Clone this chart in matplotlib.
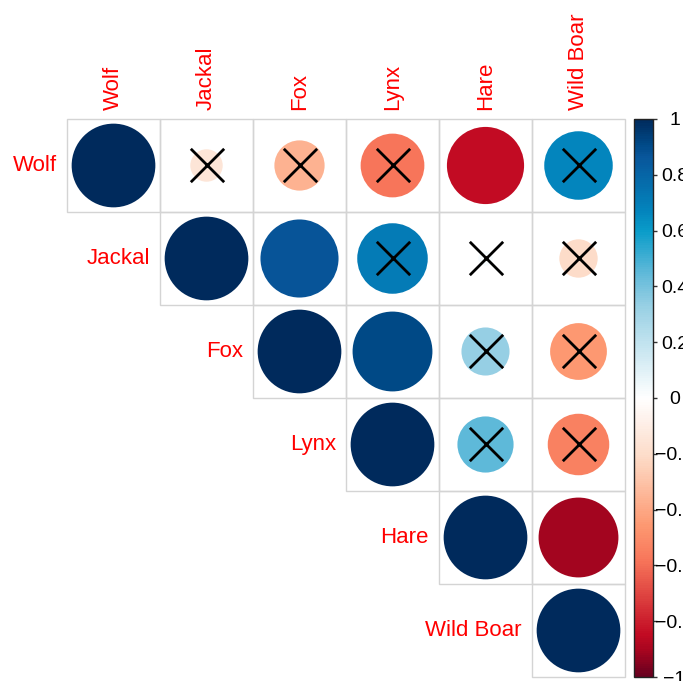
import numpy as np
import matplotlib
matplotlib.use("Agg")
import matplotlib.pyplot as plt
from matplotlib.patches import Circle, Rectangle
from matplotlib.colors import LinearSegmentedColormap, Normalize
from matplotlib.cm import ScalarMappable

plt.rcParams['font.family'] = ['Liberation Sans', 'DejaVu Sans']

#%% data
species = ["Wolf", "Jackal", "Fox", "Lynx", "Hare", "Wild Boar"]

# upper triangle of the correlation matrix, one row per species
corr_wolf = [1.00, -0.15, -0.36, -0.58, -0.85, 0.67]
corr_jackal = [1.00, 0.87, 0.71, 0.03, -0.21]
corr_fox = [1.00, 0.91, 0.33, -0.46]
corr_lynx = [1.00, 0.45, -0.54]
corr_hare = [1.00, -0.91]
corr_boar = [1.00]

# pairs that are not significant (crossed out)
not_sig = [("Wolf", "Jackal"), ("Wolf", "Fox"), ("Wolf", "Lynx"), ("Wolf", "Wild Boar"),
           ("Jackal", "Lynx"), ("Jackal", "Hare"), ("Jackal", "Wild Boar"),
           ("Fox", "Hare"), ("Fox", "Wild Boar"),
           ("Lynx", "Hare"), ("Lynx", "Wild Boar")]

cbar_ticks = [1, 0.8, 0.6, 0.4, 0.2, 0, -0.2, -0.4, -0.6, -0.8, -1]

#%% colour scale
anchors = [(-1.00, "#67001F"), (-0.91, "#a6051f"), (-0.85, "#c20b23"), (-0.58, "#f8775b"),
           (-0.46, "#fd9871"), (-0.36, "#fdb393"), (-0.21, "#fddcc8"), (-0.15, "#fde5d8"),
           (0.00, "#ffffff"), (0.33, "#98d0e4"), (0.45, "#5fb9d9"), (0.60, "#0a9cc9"),
           (0.67, "#0385bd"), (0.87, "#08559a"), (0.91, "#004a88"), (1.00, "#002a5c")]
cmap = LinearSegmentedColormap.from_list("corr", [((v + 1) / 2, c) for v, c in anchors])
norm = Normalize(-1, 1)

rows = [corr_wolf, corr_jackal, corr_fox, corr_lynx, corr_hare, corr_boar]
n = len(species)
M = np.full((n, n), np.nan)
for i, r in enumerate(rows):
    M[i, i:] = r

#%% figure
W, H = 683, 681
fig = plt.figure(figsize=(W / 100, H / 100), dpi=100)
ax = fig.add_axes([67 / W, (H - 677) / H, 558 / W, 558 / H])
ax.set_xlim(0.5, n + 0.5)
ax.set_ylim(n + 0.5, 0.5)
ax.axis("off")

for i in range(n):
    for j in range(i, n):
        ax.add_patch(Rectangle((j + 0.5, i + 0.5), 1, 1, fill=False,
                               ec="#d4d4d4", lw=1.0, clip_on=False, zorder=1))
        v = M[i, j]
        ax.add_patch(Circle((j + 1, i + 1), 0.45 * np.sqrt(abs(v)),
                            color=cmap(norm(v)), lw=0, zorder=2))

xs = [species.index(b) + 1 for a, b in not_sig]
ys = [species.index(a) + 1 for a, b in not_sig]
ax.scatter(xs, ys, marker="x", s=24 ** 2, c="black", linewidths=2.0, zorder=3)

for i, name in enumerate(species):
    ax.text(i + 1 - 0.5 - 0.11, i + 1, name, ha="right", va="center",
            color="red", fontsize=16)
    ax.text(i + 1, 0.5 - 0.1, name, rotation=90, ha="center", va="bottom",
            color="red", fontsize=16)

#%% colour bar
cax = fig.add_axes([634 / W, (H - 677) / H, 19 / W, 558 / H])
cb = fig.colorbar(ScalarMappable(norm=norm, cmap=cmap), cax=cax)
cb.outline.set_linewidth(1.0)
cb.outline.set_edgecolor("#222222")
cb.set_ticks(cbar_ticks)
cb.set_ticklabels([("%g" % t).replace("-", "\u2212") for t in cbar_ticks])
cax.tick_params(length=3, width=1, color="#333333", labelsize=14, pad=12.5)
for lab in cax.get_yticklabels():
    lab.set_horizontalalignment("center")

fig.savefig("out.png", dpi=100)
